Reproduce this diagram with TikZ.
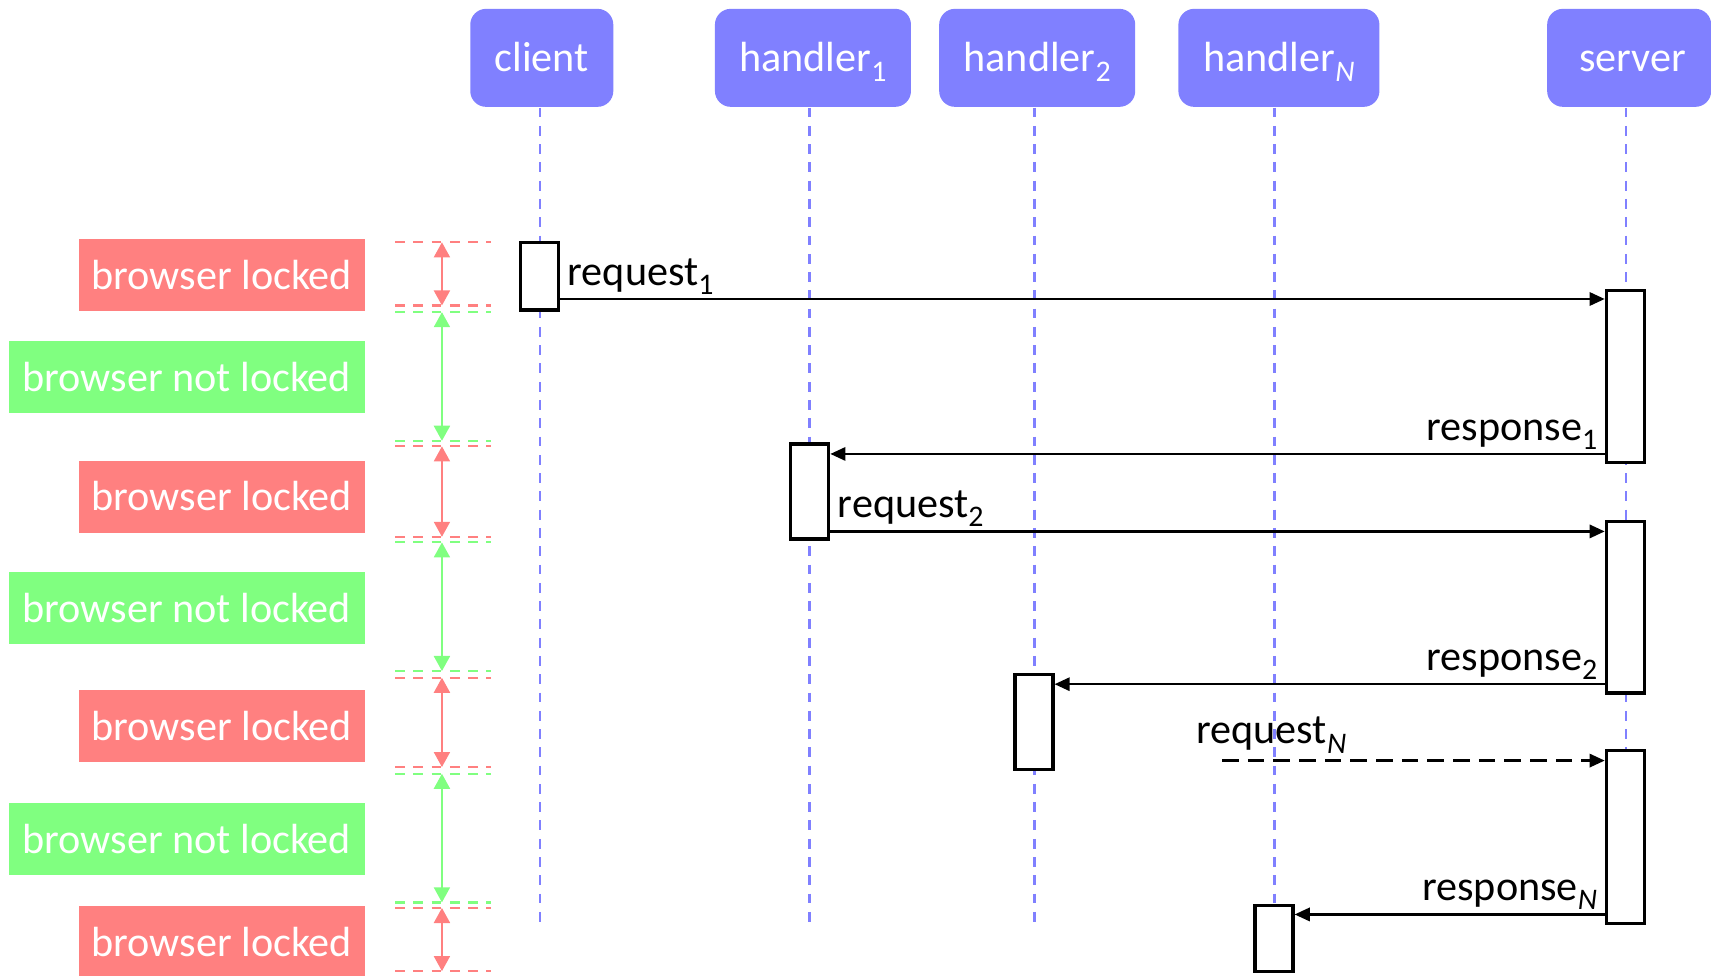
\documentclass[tikz,border=0pt]{standalone}
\usepackage{fontspec}
\setmainfont{Carlito}
\usetikzlibrary{arrows.meta}
\definecolor{lockred}{HTML}{FF8080}
\definecolor{freegreen}{HTML}{80FF80}
\definecolor{actorblue}{HTML}{8080FF}
\newcommand\idx[1]{\raisebox{-2.6pt}{\fontsize{8.5}{10}\selectfont #1}}

\begin{document}
\begin{tikzpicture}[x=0.010912cm,y=-0.010912cm,
    font=\fontsize{12}{14}\selectfont,
    actor/.style={fill=actorblue,text=white,rounded corners=4.5pt,minimum height=0.98cm,inner sep=0pt,text height=8pt,text depth=0pt},
    lifeline/.style={actorblue,line width=0.7pt,dash pattern=on 2.8pt off 2.4pt},
    act/.style={draw=black,fill=white,line width=0.95pt,minimum width=0.38cm,inner sep=0pt},
    msg/.style={line width=0.65pt,-{Triangle[length=4.3pt,width=3.8pt]}},
    lbl/.style={inner xsep=1.8pt,inner ysep=1pt},
    lockbox/.style={fill=lockred,text=white,anchor=east,minimum width=2.86cm,minimum height=0.72cm,inner sep=0pt},
    freebox/.style={fill=freegreen,text=white,anchor=east,minimum width=3.56cm,minimum height=0.72cm,inner sep=0pt},
    phaseline/.style={line width=0.65pt,dash pattern=on 2.8pt off 2.4pt},
    phasearrow/.style={line width=0.75pt,{Triangle[length=4.3pt,width=4.5pt]}-{Triangle[length=4.3pt,width=4.5pt]}}]
    \useasboundingbox (0,0) rectangle (1568,894);

    % participants
    \node[actor,minimum width=1.43cm] (client) at (496.5,53) {client};
    \node[actor,minimum width=1.96cm] (h1) at (745,53) {handler\idx{1}};
    \node[actor,minimum width=1.96cm] (h2) at (950.5,53) {handler\idx{2}};
    \node[actor,minimum width=2.01cm] (hN) at (1172,53) {handler\idx{\itshape N}};
    \node[actor,minimum width=1.64cm,text width=1.64cm,align=center] (server) at (1493,53) {\hspace*{2pt}server};

    \foreach \who/\x in {client/495,h1/742,h2/948,hN/1168,server/1490}
        \draw[lifeline] (\who.south -| \x,0) -- (\x,848);

    % activations
    \node[act,minimum height=0.677cm] (c1) at (494.5,253) {};
    \node[act,minimum height=1.724cm] (s1) at (1489.5,345) {};
    \node[act,minimum height=0.949cm] (a1) at (742,450.5) {};
    \node[act,minimum height=1.713cm] (s2) at (1489.5,556.5) {};
    \node[act,minimum height=0.949cm] (a2) at (947.5,661.5) {};
    \node[act,minimum height=1.724cm] (s3) at (1489.5,767) {};
    \node[act,minimum height=0.655cm] (aN) at (1167.5,860) {};

    % messages
    \draw[msg] (c1.east |- 0,274) -- node[lbl,above right,pos=0] (lreq1) {request\idx{1}} (s1.west |- 0,274);
    \draw[msg] (s1.west |- 0,416) -- node[lbl,above left,pos=0] (lres1) {response\idx{1}} (a1.east |- 0,416);
    \draw[msg] (a1.east |- 0,487) -- node[lbl,above right,pos=0] (lreq2) {request\idx{2}} (s2.west |- 0,487);
    \draw[msg] (s2.west |- 0,627) -- node[lbl,above left,pos=0] (lres2) {response\idx{2}} (a2.east |- 0,627);
    \coordinate (reqN) at (1120,697);
    \draw[msg,dash pattern=on 4.7pt off 2.6pt] (reqN) -- (s3.west |- reqN);
    \node[lbl,anchor=south west] (lreqN) at (1090,694) {request\idx{\itshape N}};
    \draw[msg] (s3.west |- 0,838) -- node[lbl,above left,pos=0] (lresN) {response\idx{\itshape N}} (aN.east |- 0,838);

    % browser state
    \foreach \n/\y in {1/252,2/455,3/665.5,4/863}
        \node[lockbox] (lock\n) at (335,\y) {browser locked};
    \foreach \n/\y in {1/345.5,2/557.5,3/768.5}
        \node[freebox] (free\n) at (335,\y) {browser not locked};

    \foreach \ya/\yb/\col in {222/280/lockred,286/404/freegreen,409/492/lockred,497/615/freegreen,621/703/lockred,709/827/freegreen,832/890/lockred}{
        \draw[phaseline,color=\col] (362,\ya) -- (450,\ya) (362,\yb) -- (450,\yb);
        \draw[phasearrow,color=\col] (405,\ya) -- (405,\yb);
    }
\end{tikzpicture}
\end{document}
